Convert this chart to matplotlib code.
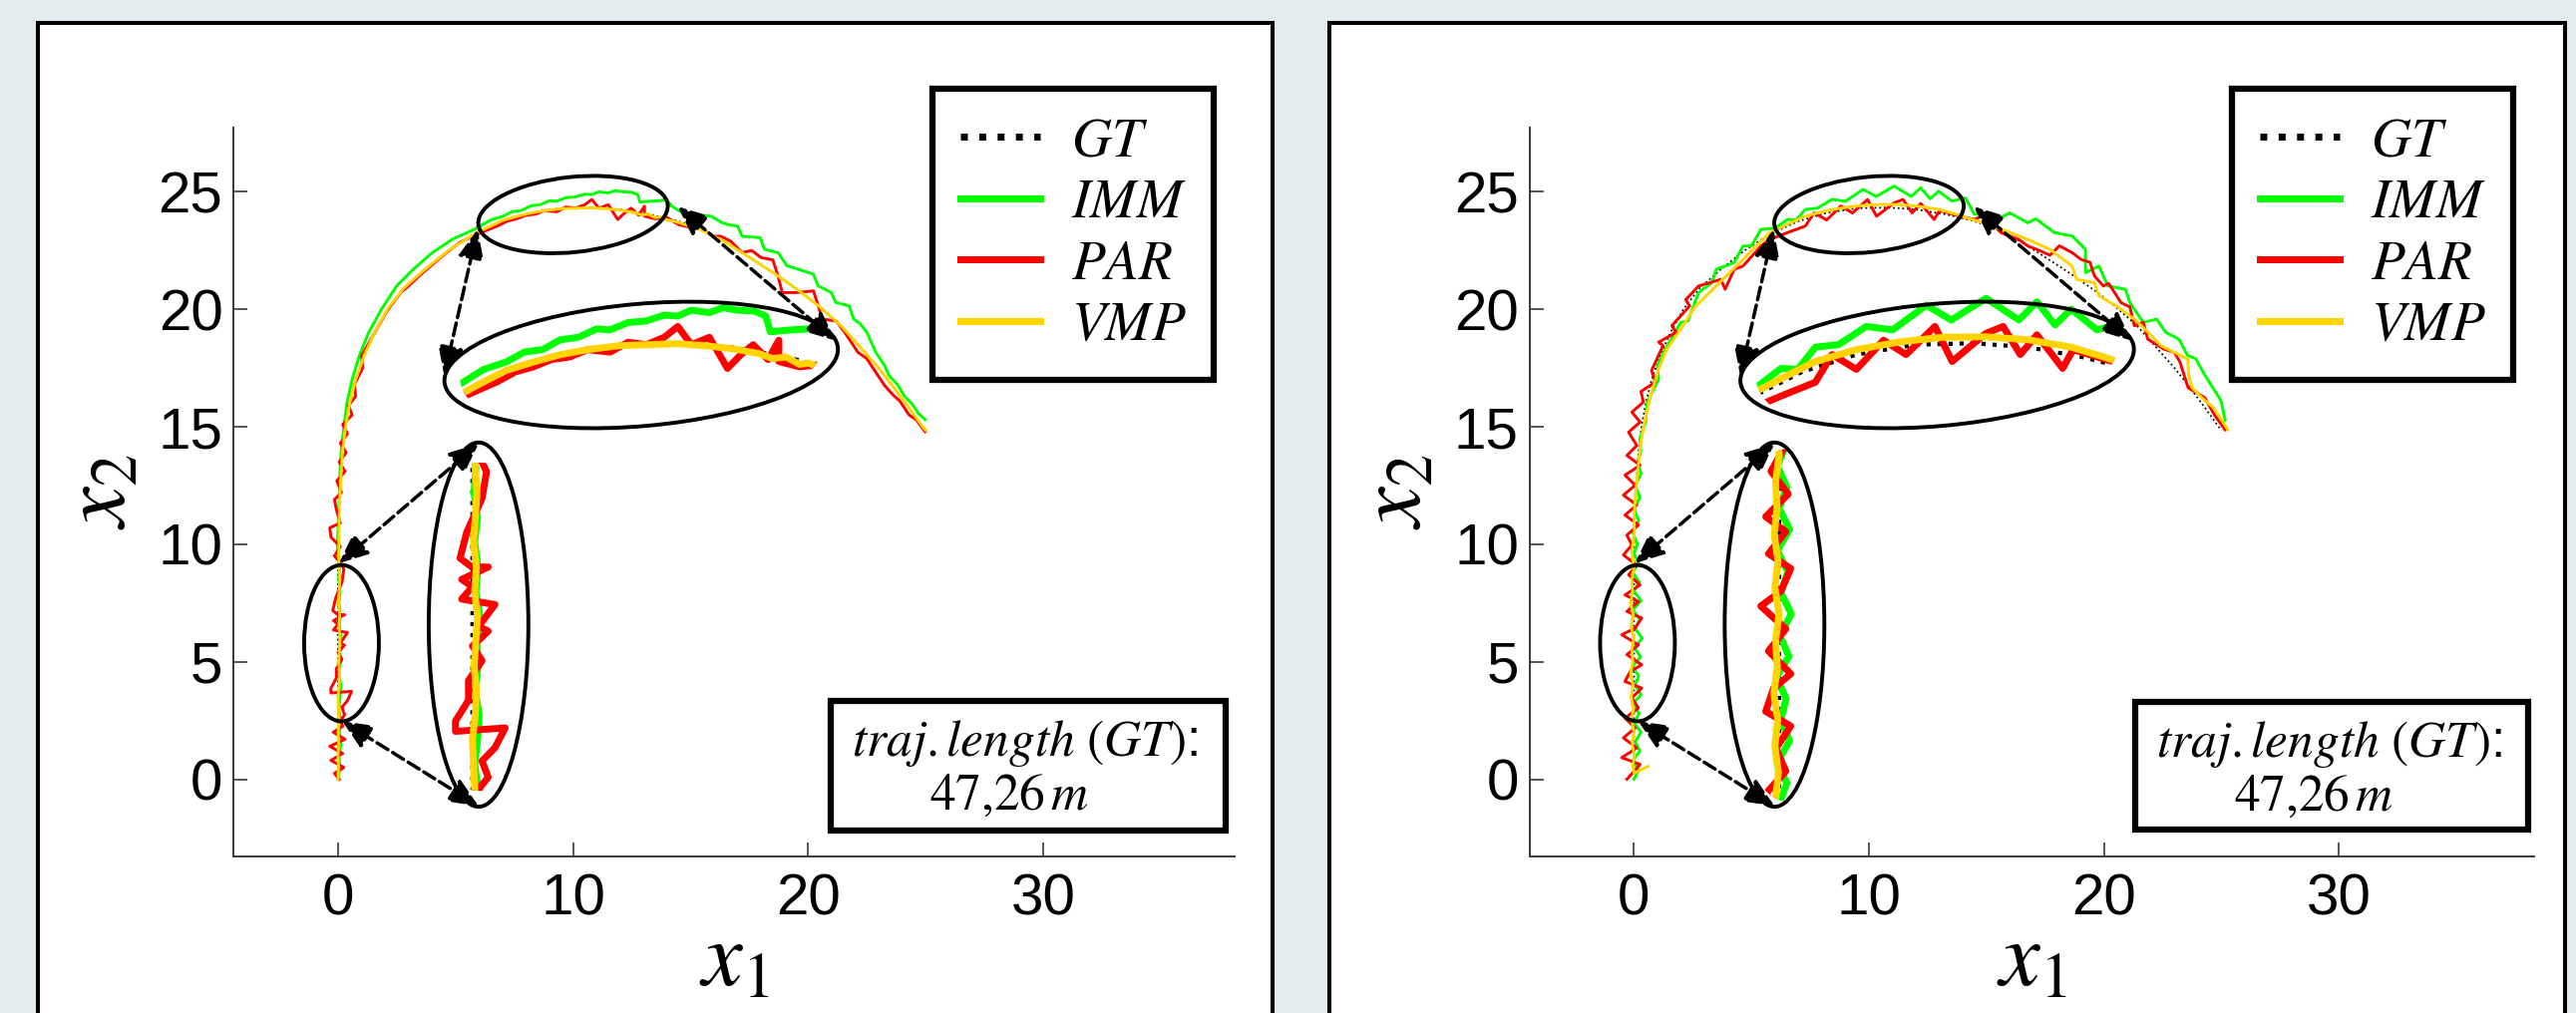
import matplotlib.pyplot as plt
import numpy as np
from matplotlib.patches import Ellipse, Rectangle
from matplotlib.lines import Line2D

plt.rcParams['mathtext.fontset'] = 'stix'
plt.rcParams['font.family'] = ['Liberation Sans', 'DejaVu Sans']

# ---- trajectories, (x1, x2) pairs ----
gt_xy = [(0.0, 0.0), (0.0, 2.0), (0.0, 4.0), (0.0, 6.0), (0.0, 8.0), (0.0, 10.0), (0.03, 11.0),
         (0.08, 12.0), (0.13, 13.0), (0.2, 14.0), (0.32, 15.0), (0.5, 16.0), (0.75, 17.0), (1.1, 18.0),
         (1.55, 19.0), (2.1, 20.0), (2.8, 20.9), (3.7, 21.7), (4.7, 22.5), (5.8, 23.2), (7.0, 23.75),
         (8.2, 24.1), (9.5, 24.3), (10.8, 24.33), (12.0, 24.25), (13.2, 24.05), (14.3, 23.8), (15.4, 23.45),
         (16.5, 22.85), (17.6, 22.15), (18.6, 21.5), (19.6, 20.8), (20.5, 20.1), (21.4, 19.3), (22.2, 18.4),
         (23.0, 17.5), (23.7, 16.6), (24.3, 15.8), (24.8, 15.1), (25.0, 14.85)]

vmp_left_xy = [(0.0, 0.0), (0.02, 0.5), (0.0, 1.0), (0.03, 1.5), (0.01, 2.0), (0.04, 2.5), (0.02, 3.0),
               (0.0, 3.5), (0.05, 4.0), (0.07, 4.5), (0.03, 5.0), (0.06, 5.5), (0.09, 6.0), (0.04, 6.5),
               (0.07, 7.0), (0.02, 7.5), (0.05, 8.0), (0.08, 8.5), (0.05, 9.0), (0.03, 9.5), (0.04, 10.0),
               (0.05, 11.0), (0.08, 12.0), (0.13, 13.0), (0.2, 14.0), (0.32, 15.0), (0.5, 16.0), (0.75, 17.0),
               (1.1, 18.0), (1.55, 19.0), (2.1, 20.0), (2.8, 20.9), (3.7, 21.7), (4.7, 22.5), (5.8, 23.2),
               (6.4, 23.5), (7.0, 23.78), (7.6, 23.95), (8.2, 24.1), (8.8, 24.2), (9.5, 24.28), (10.1, 24.3),
               (10.8, 24.32), (11.4, 24.28), (12.0, 24.22), (12.6, 24.12), (12.9, 24.02), (13.2, 24.05),
               (13.5, 23.9), (13.7, 23.93), (14.0, 23.8), (14.3, 23.75), (15.4, 23.4), (16.5, 22.85),
               (17.6, 22.15), (18.6, 21.5), (19.6, 20.8), (20.5, 20.1), (21.4, 19.3), (22.2, 18.4),
               (23.0, 17.5), (23.7, 16.6), (24.3, 15.8), (24.8, 15.1), (25.0, 14.85)]

imm_left_xy = [(0.0, 0.0), (0.08, 0.5), (0.05, 1.0), (0.12, 1.5), (0.06, 2.0), (0.1, 2.5), (0.04, 3.0),
               (0.09, 3.5), (0.12, 4.0), (0.05, 4.5), (0.1, 5.0), (0.08, 5.5), (0.13, 6.0), (0.06, 6.5),
               (0.1, 7.0), (0.04, 7.5), (0.09, 8.0), (0.03, 8.5), (0.06, 9.0), (0.0, 9.5), (-0.03, 10.0),
               (0.02, 11.0), (0.05, 12.0), (0.08, 13.0), (0.14, 14.0), (0.25, 15.0), (0.38, 16.0), (0.6, 17.0),
               (0.9, 18.0), (1.3, 19.0), (1.85, 20.0), (2.5, 21.0), (3.2, 21.7), (4.0, 22.4), (4.9, 23.0),
               (5.8, 23.4), (6.5, 23.8), (7.0, 23.95), (7.4, 24.15), (7.8, 24.2), (8.2, 24.4), (8.6, 24.45),
               (9.0, 24.62), (9.3, 24.6), (9.7, 24.75), (10.1, 24.78), (10.5, 24.9), (10.8, 24.88), (11.1, 25.0),
               (11.5, 24.95), (11.8, 25.05), (12.1, 25.0), (12.5, 24.98), (12.75, 24.88), (12.85, 24.56),
               (13.3, 24.6), (13.7, 24.62), (13.98, 24.67), (14.2, 24.39), (14.5, 24.2), (14.93, 23.96),
               (15.4, 24.0), (15.88, 23.96), (16.3, 23.7), (16.6, 23.6), (17.0, 23.54), (17.2, 23.1),
               (17.6, 23.08), (17.96, 23.04), (18.15, 22.55), (18.72, 22.41), (19.1, 21.85), (19.6, 21.7),
               (20.23, 21.49), (20.42, 21.0), (20.99, 20.71), (21.18, 20.29), (21.75, 20.14), (21.94, 19.58),
               (22.2, 19.4), (22.5, 19.02), (22.88, 18.17), (23.26, 17.6), (23.45, 17.17), (23.8, 16.8),
               (24.1, 16.3), (24.4, 16.0), (24.7, 15.56), (24.98, 15.3)]

par_left_xy = [(0.05, 0.0), (-0.15, 0.25), (0.25, 0.5), (-0.3, 0.8), (0.2, 1.1), (-0.35, 1.4), (0.3, 1.7),
               (-0.2, 2.0), (0.2, 2.25), (0.11, 2.5), (0.28, 2.74), (0.17, 3.07), (0.4, 3.34), (0.58, 3.74),
               (-0.3, 3.67), (-0.3, 3.88), (-0.07, 4.3), (-0.07, 4.7), (0.17, 5.1), (0.0, 5.4), (0.28, 5.7),
               (0.11, 5.8), (0.4, 6.24), (-0.19, 6.35), (0.0, 6.6), (-0.19, 6.75), (0.28, 7.0), (-0.01, 7.0),
               (-0.22, 7.18), (-0.1, 7.71), (0.17, 8.39), (0.25, 8.93), (0.17, 9.13), (-0.15, 9.5), (0.1, 9.9),
               (-0.3, 10.3), (-0.35, 10.7), (0.1, 10.9), (-0.05, 11.4), (-0.15, 11.9), (0.15, 12.2),
               (-0.05, 12.7), (0.3, 13.1), (0.05, 13.5), (0.35, 13.9), (0.1, 14.3), (0.4, 14.7), (0.2, 15.1),
               (0.6, 15.5), (0.45, 15.9), (0.75, 16.3), (0.7, 16.8), (1.05, 17.5), (1.0, 18.0), (1.5, 18.9),
               (2.1, 19.95), (2.7, 20.75), (2.9, 20.9), (3.6, 21.55), (4.6, 22.4), (5.2, 22.85), (5.7, 23.1),
               (6.3, 23.35), (6.8, 23.55), (7.2, 23.75), (7.6, 23.85), (8.0, 24.0), (8.4, 24.05), (8.8, 24.2),
               (9.3, 24.15), (9.7, 24.35), (10.1, 24.3), (10.5, 24.45), (10.8, 24.67), (11.1, 24.3),
               (11.5, 24.45), (11.9, 23.82), (12.2, 24.1), (12.47, 24.3), (12.8, 24.0), (13.04, 24.39),
               (13.04, 23.96), (13.5, 23.85), (14.0, 23.9), (14.5, 23.6), (14.93, 23.5), (15.5, 23.4),
               (16.0, 23.1), (16.28, 23.11), (16.7, 22.9), (17.2, 22.41), (17.6, 22.5), (18.0, 22.2),
               (18.5, 22.1), (18.72, 21.42), (18.9, 20.71), (19.47, 20.71), (20.23, 20.78), (20.61, 19.58),
               (21.2, 19.5), (21.56, 19.02), (22.12, 18.17), (22.5, 17.9), (22.88, 17.32), (23.26, 16.75),
               (23.64, 16.33), (23.9, 16.1), (24.3, 15.5), (24.6, 15.3), (24.98, 14.79)]

vmp_right_xy = [(0.6, 0.55), (0.0, 0.25), (-0.05, 0.6), (0.02, 1.0), (-0.08, 1.5), (0.0, 2.0), (-0.1, 2.5),
                (-0.02, 3.0), (-0.12, 3.5), (-0.04, 4.0), (-0.15, 4.5), (-0.05, 5.0), (-0.1, 5.5), (0.0, 6.0),
                (-0.12, 6.5), (-0.03, 7.0), (-0.14, 7.5), (-0.06, 8.0), (-0.1, 8.5), (0.0, 9.0), (-0.09, 9.68),
                (0.02, 10.5), (0.0, 11.2), (0.1, 12.5), (0.2, 13.5), (0.3, 14.4), (0.48, 15.34), (0.7, 16.3),
                (1.05, 17.46), (1.4, 18.3), (1.99, 19.16), (2.6, 20.1), (3.5, 21.0), (4.64, 22.12), (5.2, 22.7),
                (5.78, 23.26), (6.5, 23.6), (7.29, 23.96), (8.2, 24.2), (9.18, 24.36), (10.1, 24.45),
                (11.07, 24.46), (12.0, 24.4), (12.96, 24.25), (13.72, 24.04), (14.3, 23.85), (14.86, 23.68),
                (15.8, 23.35), (16.75, 22.97), (17.7, 22.55), (18.64, 21.84), (18.83, 21.27), (19.59, 21.13),
                (19.78, 20.57), (20.53, 20.14), (21.29, 19.58), (21.9, 19.0), (22.42, 18.45), (22.99, 18.17),
                (23.56, 17.88), (23.6, 17.2), (23.75, 16.66), (24.2, 16.2), (24.63, 15.83), (25.0, 15.3),
                (25.26, 14.87)]

imm_right_xy = [(0.0, 0.0), (0.2, 0.4), (-0.05, 0.8), (0.25, 1.2), (0.05, 1.6), (0.3, 2.0), (0.0, 2.4),
                (0.22, 2.8), (-0.05, 3.2), (0.3, 3.6), (0.05, 4.0), (0.2, 4.4), (-0.08, 4.8), (0.28, 5.2),
                (0.02, 5.6), (0.35, 6.0), (0.05, 6.4), (0.25, 6.8), (-0.05, 7.2), (0.3, 7.6), (0.0, 8.0),
                (0.22, 8.4), (-0.05, 8.8), (0.2, 9.2), (0.0, 9.6), (0.15, 10.0), (-0.05, 10.5), (0.2, 11.0),
                (0.0, 11.5), (0.25, 12.0), (0.05, 12.5), (0.3, 13.0), (0.15, 13.5), (0.29, 13.92), (0.25, 14.5),
                (0.5, 15.2), (0.55, 16.0), (1.05, 17.03), (1.0, 17.6), (1.42, 18.45), (1.99, 19.44), (2.3, 19.5),
                (2.75, 20.71), (3.32, 21.13), (3.5, 21.7), (4.26, 21.98), (4.64, 22.69), (5.0, 22.7), (5.4, 23.4),
                (6.0, 23.45), (6.53, 23.82), (6.9, 23.8), (7.29, 24.25), (7.8, 24.3), (8.42, 24.67), (9.0, 24.6),
                (9.75, 25.1), (10.3, 24.8), (11.07, 25.24), (11.8, 24.8), (12.2, 25.17), (12.6, 24.7),
                (12.96, 25.02), (13.53, 24.6), (14.1, 24.74), (14.48, 24.04), (14.9, 24.05), (15.6, 23.9),
                (15.99, 24.1), (16.75, 23.68), (17.1, 23.85), (17.89, 23.26), (18.64, 23.12), (19.21, 22.55),
                (19.21, 21.56), (19.78, 21.84), (20.16, 20.99), (20.91, 20.85), (21.1, 20.28), (21.67, 19.44),
                (22.24, 19.58), (22.62, 19.02), (23.18, 18.73), (23.56, 18.03), (23.9, 17.9), (24.28, 17.21),
                (24.98, 16.1), (25.15, 15.28)]

par_right_xy = [(-0.3, 0.0), (0.26, 0.63), (-0.52, 0.92), (0.12, 1.33), (-0.45, 1.76), (0.05, 2.18),
                (-0.38, 2.6), (0.19, 3.03), (-0.09, 3.46), (0.33, 3.88), (-0.38, 4.16), (-0.16, 4.59),
                (0.33, 4.87), (-0.3, 5.3), (0.19, 5.72), (-0.52, 6.15), (0.05, 6.43), (0.33, 6.86), (-0.3, 7.14),
                (0.19, 7.56), (-0.38, 7.84), (0.26, 8.27), (-0.23, 8.7), (0.12, 9.12), (-0.45, 9.54),
                (-0.09, 9.97), (-0.3, 10.39), (0.19, 10.82), (-0.38, 11.24), (0.12, 11.67), (-0.45, 12.09),
                (0.05, 12.51), (-0.38, 12.94), (0.26, 13.36), (-0.3, 13.78), (0.12, 14.2), (-0.23, 14.77),
                (0.26, 15.2), (-0.09, 15.62), (0.4, 16.05), (0.3, 16.5), (0.9, 16.9), (0.75, 17.4), (1.24, 18.45),
                (1.05, 18.6), (1.8, 19.02), (1.61, 19.3), (2.37, 20.14), (2.2, 20.4), (2.75, 20.99), (3.69, 21.27),
                (3.88, 20.85), (4.26, 21.7), (4.64, 21.84), (5.4, 22.69), (5.78, 22.97), (6.53, 23.26),
                (7.29, 23.54), (7.66, 24.1), (8.2, 23.8), (8.8, 24.39), (9.3, 24.1), (9.94, 24.67), (10.32, 23.96),
                (11.07, 24.53), (11.45, 24.67), (11.83, 24.1), (12.2, 24.5), (12.77, 23.82), (13.0, 24.2),
                (13.72, 24.0), (14.48, 23.82), (14.9, 24.0), (15.61, 23.26), (16.37, 22.97), (16.75, 22.7),
                (17.13, 22.55), (17.7, 22.3), (18.1, 22.7), (18.64, 22.41), (19.02, 22.12), (19.4, 22.0),
                (19.59, 21.42), (19.97, 20.99), (20.2, 21.1), (20.72, 20.28), (21.1, 20.1), (21.29, 19.3),
                (21.67, 19.44), (21.86, 18.73), (22.53, 18.31), (22.99, 18.17), (23.23, 17.75), (23.58, 16.66),
                (24.28, 16.24), (24.7, 15.5), (25.15, 14.87)]

series_names = ['GT', 'IMM', 'PAR', 'VMP']
legend_labels = ['$GT$', '$IMM$', '$PAR$', '$VMP$']
x_ticks = [0, 10, 20, 30]
y_ticks = [0, 5, 10, 15, 20, 25]
traj_text = '$traj.length\\ (GT)$:'
traj_value = '$47{,}26\\,m$'

# ---- estilo ----
W, H, DPI = 2583, 1016, 100
cores = {'GT': 'black', 'IMM': '#00ff00', 'PAR': '#ff0000', 'VMP': '#ffd400'}
estilo = {'GT': ':', 'IMM': '-', 'PAR': '-', 'VMP': '-'}
camada = {'GT': 2, 'IMM': 3, 'PAR': 4, 'VMP': 5}

# ellipses (cx, cy, largura, altura, angulo) in data units
small_top = (10.0, 24.03, 8.1, 3.2, 6)
big_top = (12.9, 17.63, 16.8, 5.2, 5)
small_low = (0.15, 5.79, 3.18, 6.65, 0)
big_low = (5.98, 6.58, 4.24, 15.5, 0)
arrows = [((5.94, 23.4), (4.52, 17.17)), ((14.46, 24.37), (21.18, 18.66)),
          ((0.04, 9.19), (5.98, 14.28)), ((0.18, 2.47), (5.98, -1.14))]


def fx(px):
    return px / W


def fy(py):
    return 1 - py / H


def draw_lines(a, series, lw, clip=None):
    for name, xy in series:
        x, y = np.array(xy).T
        w = lw * 0.6 if name == 'GT' else lw
        ln, = a.plot(x, y, estilo[name], color=cores[name], lw=w, zorder=camada[name])
        if clip is not None:
            cx, cy, ew, eh, ang = clip
            ln.set_clip_path(Ellipse((cx, cy), ew, eh, angle=ang, transform=a.transData))


def zoom_inset(ax, bounds, src, dst, scale):
    X0, X1, Y0, Y1 = bounds
    sx, sy = scale
    ax_in = ax.inset_axes([X0, Y0, X1 - X0, Y1 - Y0], transform=ax.transData, zorder=5)
    ax_in.set_xlim(src[0] + (X0 - dst[0]) / sx, src[0] + (X1 - dst[0]) / sx)
    ax_in.set_ylim(src[1] + (Y0 - dst[1]) / sy, src[1] + (Y1 - dst[1]) / sy)
    ax_in.set_axis_off()
    return ax_in


def draw_panel(frame_px, ax_px, leg_px, box_px, series, low_src, low_dst, low_scale):
    # painel branco com borda
    fl, ft, fr = frame_px
    fig.add_artist(Rectangle((fx(fl), -0.05), fx(fr) - fx(fl), fy(ft) + 0.05, transform=fig.transFigure,
                             facecolor='white', edgecolor='black', lw=2.9, zorder=-1))
    l, t, r, b = ax_px
    ax = fig.add_axes([fx(l), fy(b), fx(r) - fx(l), fy(t) - fy(b)])
    ax.patch.set_visible(False)
    ppu = (b - t) / 31.0
    ax.set_ylim(-3.27, 27.73)
    ax.set_xlim(-4.43, -4.43 + (r - l) / ppu)

    draw_lines(ax, series, 2.1)

    # zoomed copies
    a_top = zoom_inset(ax, (4.3, 21.6, 14.3, 21.6), (10.77, 24.28), (14.4, 18.45), (1.92, 2.1))
    draw_lines(a_top, series, 5.0, clip=small_top)
    a_low = zoom_inset(ax, (3.86, 8.1, -1.17, 14.33), low_src, low_dst, low_scale)
    draw_lines(a_low, series, 5.0, clip=small_low)

    for cx, cy, ew, eh, ang in (small_top, big_top, small_low, big_low):
        ax.add_patch(Ellipse((cx, cy), ew, eh, angle=ang, fill=False, ec='black', lw=2.8, zorder=6))
    for p0, p1 in arrows:
        ax.annotate('', xy=p1, xytext=p0,
                    arrowprops=dict(arrowstyle='<|-|>,head_length=0.8,head_width=0.35', linestyle='--',
                                    lw=2.5, color='black', shrinkA=0, shrinkB=0, mutation_scale=22),
                    zorder=7)

    ax.spines['top'].set_visible(False)
    ax.spines['right'].set_visible(False)
    for s in ('left', 'bottom'):
        ax.spines[s].set_color('#3a3a3a')
        ax.spines[s].set_linewidth(1.4)
    ax.set_xticks(x_ticks)
    ax.set_yticks(y_ticks)
    ax.tick_params(direction='in', length=10, width=1.2, colors='#3a3a3a', labelcolor='black',
                   labelsize=42)
    ax.tick_params(axis='x', pad=12)
    ax.tick_params(axis='y', pad=8)
    ax.set_xlabel('$x_1$', fontsize=66, labelpad=-6)
    ax.set_ylabel('$x_2$', fontsize=66, labelpad=10)

    handles = [Line2D([], [], ls=estilo[n], color=cores[n], lw=5) for n in series_names]
    leg = ax.legend(handles, legend_labels, loc='upper left', bbox_to_anchor=(fx(leg_px[0]), fy(leg_px[1])),
                    bbox_transform=fig.transFigure, fancybox=False, framealpha=1, edgecolor='black',
                    fontsize=40, handlelength=1.45, handletextpad=0.55, labelspacing=0.17, borderpad=0.5,
                    borderaxespad=0)
    leg.get_frame().set_linewidth(4.5)

    bl, bt, br, bb = box_px
    fig.add_artist(Rectangle((fx(bl), fy(bb)), fx(br) - fx(bl), fy(bt) - fy(bb), transform=fig.transFigure,
                             facecolor='white', edgecolor='black', lw=4.5, zorder=10))
    fig.text(fx(bl + 21), fy(bt + 55), traj_text, fontsize=37, zorder=11, va='baseline')
    fig.text(fx(bl + 99), fy(bt + 109), traj_value, fontsize=37, zorder=11, va='baseline')
    return ax


fig = plt.figure(figsize=(W / DPI, H / DPI), dpi=DPI, facecolor='#e4ebef')

left_series = [('GT', gt_xy), ('IMM', imm_left_xy), ('PAR', par_left_xy), ('VMP', vmp_left_xy)]
right_series = [('GT', gt_xy), ('IMM', imm_right_xy), ('PAR', par_right_xy), ('VMP', vmp_right_xy)]

draw_panel((38, 23.3, 1276), (234.5, 128, 1238, 858.6), (935, 89), (833, 703, 1229, 833),
           left_series, (0.05, 5.8), (5.84, 6.51), (2.4, 2.1))
draw_panel((1332.7, 23.3, 2572), (1534, 128, 2541, 858.6), (2238, 89), (2141, 704, 2535, 832),
           right_series, (-0.05, 5.8), (6.1, 6.58), (1.5, 2.25))

fig.savefig('out.png', dpi=DPI, facecolor=fig.get_facecolor())
